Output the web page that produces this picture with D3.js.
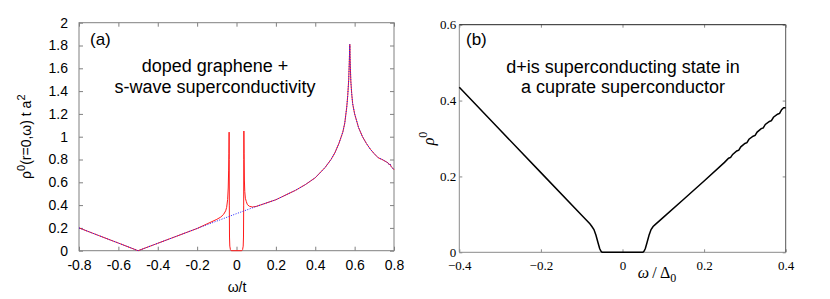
<!DOCTYPE html>
<html>
<head>
<meta charset="utf-8">
<script src="https://cdn.jsdelivr.net/npm/d3@7"></script>
<style>
  body { margin: 0; background: #fff; }
  svg { display: block; }
</style>
</head>
<body>
<svg id="chart" width="830" height="299"></svg>
<script>
// ---- panel (a): doped graphene, normal state (blue dotted)
const omegaNormal = [-0.8, -0.7, -0.6, -0.5, -0.4, -0.3, -0.2, -0.1, 0, 0.1, 0.2, 0.3, 0.35, 0.4, 0.45, 0.48, 0.5, 0.52, 0.54, 0.55, 0.56, 0.565, 0.57, 0.573, 0.5755, 0.578, 0.581, 0.585, 0.59, 0.6, 0.61, 0.62, 0.64, 0.66, 0.68, 0.7, 0.72, 0.74, 0.76, 0.77, 0.775, 0.78, 0.785, 0.79, 0.8];
const rhoNormal = [0.2, 0.133, 0.067, 0.0, 0.065, 0.13, 0.195, 0.26, 0.325, 0.388, 0.447, 0.53, 0.58, 0.64, 0.73, 0.8, 0.86, 0.94, 1.04, 1.12, 1.26, 1.36, 1.5, 1.66, 1.81, 1.62, 1.48, 1.38, 1.29, 1.2, 1.14, 1.08, 1.0, 0.94, 0.89, 0.85, 0.815, 0.8, 0.78, 0.77, 0.755, 0.76, 0.74, 0.73, 0.71];

// ---- panel (a): s-wave superconducting state near the gap (red)
const omegaGap = [-0.15, -0.1, -0.08, -0.065, -0.055, -0.05, -0.045, -0.042, -0.04, -0.0385, -0.0375, -0.037, -0.0365, -0.0355, -0.034, -0.031, -0.027, 0.027, 0.031, 0.034, 0.0355, 0.0365, 0.037, 0.0375, 0.0385, 0.04, 0.042, 0.045, 0.05, 0.055, 0.065, 0.08, 0.1, 0.12];
const rhoGap = [0.235, 0.275, 0.295, 0.32, 0.35, 0.38, 0.45, 0.55, 0.7, 0.85, 1.04, 0.8, 0.4, 0.12, 0.04, 0.01, 0.0, 0.0, 0.01, 0.04, 0.12, 0.4, 0.8, 1.05, 0.85, 0.62, 0.52, 0.46, 0.43, 0.405, 0.39, 0.383, 0.388, 0.4];

// ---- panel (b): d+is state in a cuprate
const omegaB = [-0.4, -0.3, -0.2, -0.1, -0.08, -0.075, -0.07, -0.065, -0.06, -0.056, -0.053, -0.05, 0.05, 0.053, 0.056, 0.06, 0.065, 0.07, 0.075, 0.08, 0.1, 0.15, 0.2, 0.25, 0.26, 0.265, 0.27, 0.28, 0.285, 0.29, 0.3, 0.305, 0.31, 0.32, 0.325, 0.33, 0.34, 0.345, 0.35, 0.36, 0.365, 0.37, 0.38, 0.385, 0.39, 0.395, 0.4];
const rhoB = [0.435, 0.3225, 0.21, 0.0975, 0.075, 0.068, 0.06, 0.045, 0.025, 0.01, 0.003, 0.0, 0.0, 0.003, 0.01, 0.025, 0.045, 0.06, 0.068, 0.073, 0.092, 0.14, 0.188, 0.237, 0.248, 0.25, 0.258, 0.267, 0.269, 0.278, 0.287, 0.289, 0.298, 0.306, 0.308, 0.317, 0.326, 0.328, 0.337, 0.345, 0.347, 0.356, 0.364, 0.366, 0.376, 0.381, 0.381];

const xTicksA = [-0.8, -0.6, -0.4, -0.2, 0, 0.2, 0.4, 0.6, 0.8];
const yTicksA = [0, 0.2, 0.4, 0.6, 0.8, 1, 1.2, 1.4, 1.6, 1.8, 2];
const xTicksB = [-0.4, -0.2, 0, 0.2, 0.4];
const yTicksB = [0, 0.2, 0.4, 0.6];

const svg = d3.select('#chart');
const sans = '"Liberation Sans", Arial, sans-serif';
const serif = '"Liberation Serif", "Times New Roman", serif';

const fmtA = d => String(+d.toFixed(1));
const fmtB = d => String(+d.toFixed(1)).replace('-', '\u2212');

// ============ panel (a) ============
const a = { left: 79, right: 394, top: 22.7, bottom: 250.7 };
const xA = d3.scaleLinear().domain([-0.8, 0.8]).range([a.left, a.right]);
const yA = d3.scaleLinear().domain([0, 2]).range([a.bottom, a.top]);

const gA = svg.append('g');
const frameA = '#808080';

function styleAxis(g, color, font, size) {
  g.select('.domain').remove();
  g.selectAll('.tick line').attr('stroke', color);
  g.selectAll('.tick text').attr('fill', '#000').style('font-family', font).style('font-size', size + 'px');
}

gA.append('g')
  .attr('transform', `translate(0,${a.bottom})`)
  .call(d3.axisBottom(xA).tickValues(xTicksA).tickFormat(fmtA).tickSize(-4).tickPadding(9))
  .call(g => styleAxis(g, frameA, sans, 14));
gA.append('g')
  .attr('transform', `translate(0,${a.top})`)
  .call(d3.axisTop(xA).tickValues(xTicksA).tickFormat('').tickSize(-4))
  .call(g => styleAxis(g, frameA, sans, 14));
gA.append('g')
  .attr('transform', `translate(${a.left},0)`)
  .call(d3.axisLeft(yA).tickValues(yTicksA).tickFormat(fmtA).tickSize(-4).tickPadding(11))
  .call(g => styleAxis(g, frameA, sans, 14));
gA.append('g')
  .attr('transform', `translate(${a.right},0)`)
  .call(d3.axisRight(yA).tickValues(yTicksA).tickFormat('').tickSize(-4))
  .call(g => styleAxis(g, frameA, sans, 14));

gA.append('rect')
  .attr('x', a.left).attr('y', a.top)
  .attr('width', a.right - a.left).attr('height', a.bottom - a.top)
  .attr('fill', 'none').attr('stroke', frameA).attr('stroke-width', 1);

const normalPts = omegaNormal.map((w, i) => [w, rhoNormal[i]]);
const gapPts = omegaGap.map((w, i) => [w, rhoGap[i]]);
const scPts = normalPts.filter(p => p[0] < -0.15)
  .concat(gapPts)
  .concat(normalPts.filter(p => p[0] > 0.12));

const lineA = d3.line().x(d => xA(d[0])).y(d => yA(d[1]));

gA.append('path')
  .datum(scPts)
  .attr('d', lineA)
  .attr('fill', 'none')
  .attr('stroke', '#ff1a1a')
  .attr('stroke-width', 1);

gA.append('path')
  .datum(normalPts)
  .attr('d', lineA)
  .attr('fill', 'none')
  .attr('stroke', '#2020ff')
  .attr('stroke-width', 1)
  .attr('stroke-dasharray', '1,1.5');

gA.append('text')
  .attr('x', 90).attr('y', 45)
  .style('font-family', sans).style('font-size', '17px')
  .text('(a)');

gA.append('text')
  .attr('x', 215).attr('y', 72)
  .attr('text-anchor', 'middle')
  .style('font-family', sans).style('font-size', '18px')
  .text('doped graphene +');
gA.append('text')
  .attr('x', 215).attr('y', 93)
  .attr('text-anchor', 'middle')
  .style('font-family', sans).style('font-size', '18px')
  .text('s-wave superconductivity');

// x label
gA.append('text')
  .attr('x', 237).attr('y', 292)
  .attr('text-anchor', 'middle')
  .style('font-family', sans).style('font-size', '14px')
  .text('\u03c9/t');

// y label
const yLabA = gA.append('text')
  .attr('transform', `translate(31,${(a.top + a.bottom) / 2}) rotate(-90)`)
  .attr('text-anchor', 'middle')
  .style('font-family', sans).style('font-size', '14px');
yLabA.append('tspan').text('\u03c1');
yLabA.append('tspan').attr('dy', -6).style('font-size', '11px').text('0');
yLabA.append('tspan').attr('dy', 6).text('(r=0,\u03c9) t a');
yLabA.append('tspan').attr('dy', -6).style('font-size', '11px').text('2');

// ============ panel (b) ============
const b = { left: 459.3, right: 785.7, top: 24.7, bottom: 252.3 };
const xB = d3.scaleLinear().domain([-0.4, 0.4]).range([b.left, b.right]);
const yB = d3.scaleLinear().domain([0, 0.6]).range([b.bottom, b.top]);

const gB = svg.append('g');
const frameB = '#8a8a8a';

gB.append('g')
  .attr('transform', `translate(0,${b.bottom})`)
  .call(d3.axisBottom(xB).tickValues(xTicksB).tickFormat(fmtB).tickSize(-3).tickPadding(8))
  .call(g => styleAxis(g, frameB, serif, 13));
gB.append('g')
  .attr('transform', `translate(0,${b.top})`)
  .call(d3.axisTop(xB).tickValues(xTicksB).tickFormat('').tickSize(-3))
  .call(g => styleAxis(g, frameB, serif, 13));
gB.append('g')
  .attr('transform', `translate(${b.left},0)`)
  .call(d3.axisLeft(yB).tickValues(yTicksB).tickFormat(fmtB).tickSize(-3).tickPadding(3))
  .call(g => styleAxis(g, frameB, serif, 13));
gB.append('g')
  .attr('transform', `translate(${b.right},0)`)
  .call(d3.axisRight(yB).tickValues(yTicksB).tickFormat('').tickSize(-3))
  .call(g => styleAxis(g, frameB, serif, 13));

// frame: left/bottom light, top/right darker
gB.append('line').attr('x1', b.left).attr('x2', b.left).attr('y1', b.top).attr('y2', b.bottom).attr('stroke', frameB);
gB.append('line').attr('x1', b.left).attr('x2', b.right).attr('y1', b.bottom).attr('y2', b.bottom).attr('stroke', frameB);
gB.append('line').attr('x1', b.left).attr('x2', b.right).attr('y1', b.top).attr('y2', b.top).attr('stroke', '#222');
gB.append('line').attr('x1', b.right).attr('x2', b.right).attr('y1', b.top).attr('y2', b.bottom).attr('stroke', '#555');

const lineB = d3.line().x((d, i) => xB(omegaB[i])).y(d => yB(d));

gB.append('path')
  .datum(rhoB)
  .attr('d', lineB)
  .attr('fill', 'none')
  .attr('stroke', '#000')
  .attr('stroke-width', 1.5);

gB.append('text')
  .attr('x', 466).attr('y', 45)
  .style('font-family', sans).style('font-size', '17px')
  .text('(b)');

gB.append('text')
  .attr('x', 623).attr('y', 73)
  .attr('text-anchor', 'middle')
  .style('font-family', sans).style('font-size', '18px')
  .text('d+is superconducting state in');
gB.append('text')
  .attr('x', 623).attr('y', 93)
  .attr('text-anchor', 'middle')
  .style('font-family', sans).style('font-size', '18px')
  .text('a cuprate superconductor');

// x label  ω/Δ0
const xLabB = gB.append('text')
  .attr('x', 657).attr('y', 278)
  .attr('text-anchor', 'middle')
  .style('font-family', serif).style('font-size', '16px');
xLabB.append('tspan').style('font-style', 'italic').text('\u03c9');
xLabB.append('tspan').text('\u2009/\u2009\u0394');
xLabB.append('tspan').attr('dy', 4).style('font-size', '12px').text('0');

// y label  ρ0
const yLabB = gB.append('text')
  .attr('transform', `translate(434,${(b.top + b.bottom) / 2}) rotate(-90)`)
  .attr('text-anchor', 'middle')
  .style('font-family', serif).style('font-size', '16px');
yLabB.append('tspan').style('font-style', 'italic').text('\u03c1');
yLabB.append('tspan').attr('dy', -7).style('font-size', '12px').text('0');
</script>
</body>
</html>
